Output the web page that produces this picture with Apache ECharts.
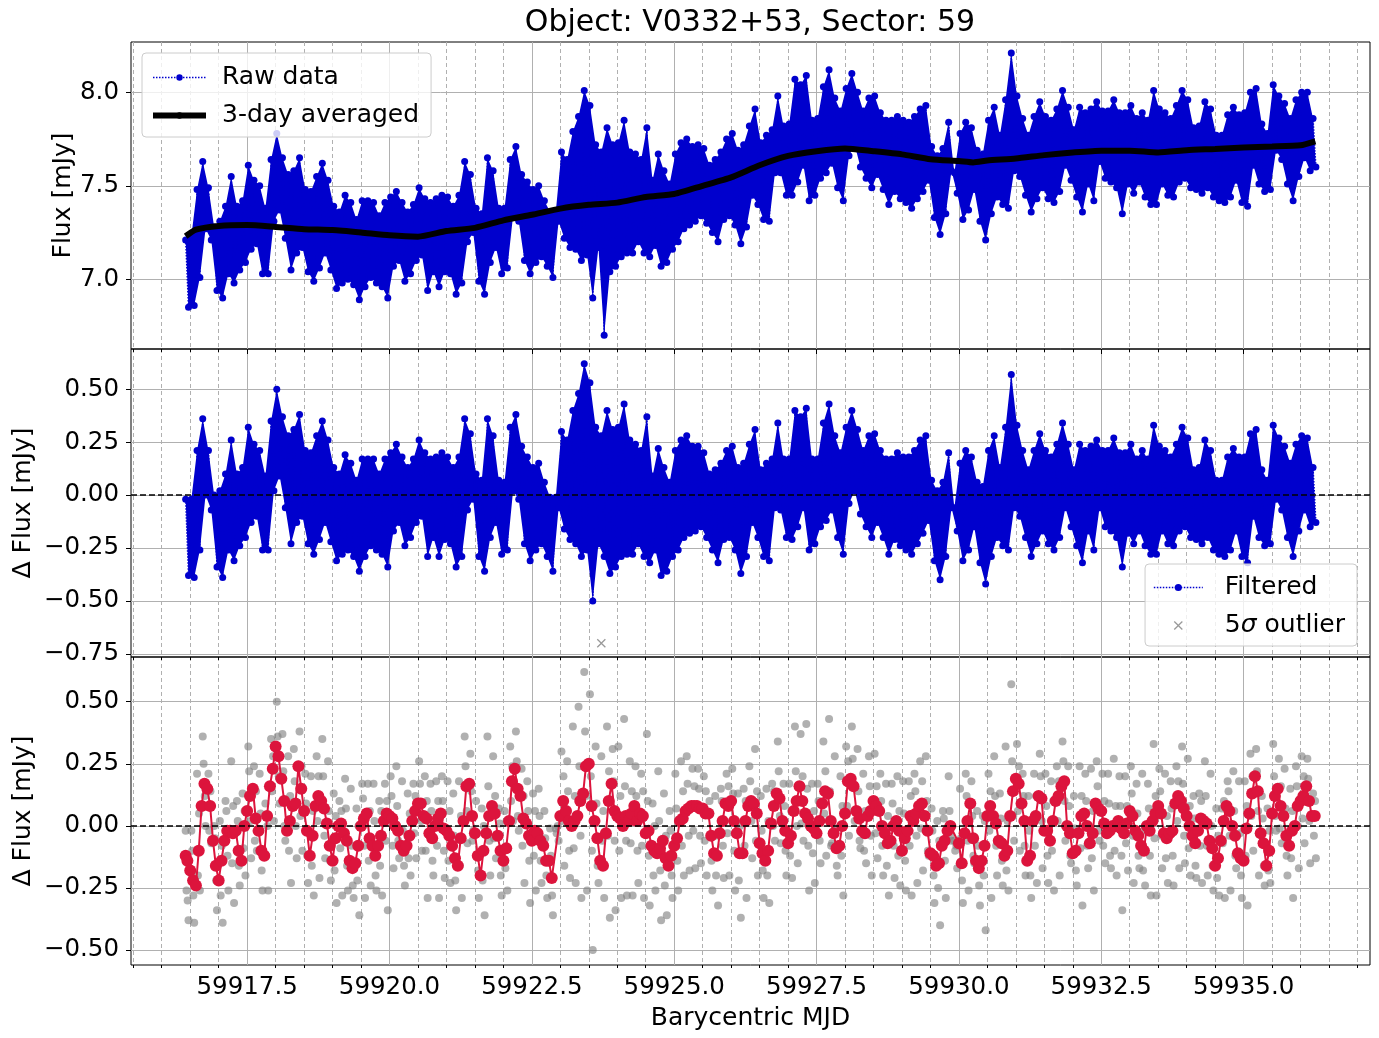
<!DOCTYPE html>
<html>
<head>
<meta charset="utf-8">
<title>Object: V0332+53, Sector: 59</title>
<script src="https://cdn.jsdelivr.net/npm/echarts@6/dist/echarts.min.js"></script>
<style>
  html, body { margin: 0; padding: 0; background: #fff; }
  #chart { width: 1379px; height: 1038px; }
</style>
</head>
<body>
<div id="chart"></div>
<script>
// light curve: max / min per 0.1 d bin, bins start at binStart
const binStart = 59916.4;
const binStep = 0.1;

// raw flux [mJy]
const rawHi = [
  7.21, 7.23, 7.48, 7.63, 7.49, 7.28, 7.31, 7.39, 7.55, 7.39,
  7.42, 7.61, 7.53, 7.50, 7.38, 7.64, 7.78, 7.65, 7.56, 7.58,
  7.65, 7.48, 7.47, 7.55, 7.62, 7.53, 7.39, 7.36, 7.45, 7.41,
  7.32, 7.42, 7.42, 7.41, 7.34, 7.41, 7.44, 7.47, 7.41, 7.36,
  7.40, 7.49, 7.43, 7.41, 7.43, 7.45, 7.44, 7.39, 7.45, 7.63,
  7.56, 7.38, 7.35, 7.65, 7.58, 7.38, 7.38, 7.64, 7.71, 7.56,
  7.52, 7.48, 7.50, 7.42, 7.36, 7.36, 7.68, 7.64, 7.79, 7.87,
  8.01, 7.93, 7.72, 7.68, 7.81, 7.72, 7.73, 7.85, 7.68, 7.67,
  7.64, 7.81, 7.53, 7.67, 7.58, 7.51, 7.67, 7.73, 7.75, 7.71,
  7.72, 7.70, 7.61, 7.64, 7.68, 7.75, 7.78, 7.69, 7.72, 7.82,
  7.91, 7.73, 7.77, 7.80, 7.98, 7.82, 7.83, 8.07, 8.04, 8.09,
  7.85, 7.86, 8.03, 8.12, 7.97, 7.90, 8.02, 8.10, 8.00, 7.90,
  7.97, 7.98, 7.89, 7.85, 7.85, 7.87, 7.85, 7.84, 7.87, 7.91,
  7.93, 7.71, 7.66, 7.70, 7.84, 7.57, 7.78, 7.84, 7.81, 7.69,
  7.67, 7.85, 7.92, 7.77, 7.96, 8.21, 7.98, 7.86, 7.77, 7.87,
  7.95, 7.87, 7.85, 7.91, 8.01, 7.92, 7.80, 7.92, 7.89, 7.91,
  7.95, 7.90, 7.90, 7.96, 7.89, 7.89, 7.93, 7.86, 7.89, 7.85,
  8.01, 7.91, 7.89, 7.86, 7.93, 8.01, 7.96, 7.81, 7.82, 7.95,
  7.91, 7.77, 7.77, 7.88, 7.92, 7.88, 7.89, 8.00, 8.02, 7.83,
  7.78, 8.04, 7.98, 7.94, 7.86, 7.96, 8.00, 8.00, 7.86
];
const rawLo = [
  6.85, 6.86, 7.01, 7.27, 7.21, 6.94, 6.90, 7.03, 6.98, 7.05,
  7.09, 7.16, 7.19, 7.03, 7.03, 7.31, 7.37, 7.22, 7.05, 7.14,
  7.17, 7.04, 6.99, 7.06, 7.14, 7.05, 6.95, 6.98, 7.00, 6.97,
  6.89, 6.96, 7.01, 6.98, 6.96, 6.90, 7.07, 7.10, 6.99, 7.03,
  7.10, 7.13, 6.94, 7.04, 6.96, 7.04, 7.03, 6.92, 6.98, 7.20,
  7.25, 6.99, 6.92, 7.09, 7.17, 7.03, 7.06, 7.34, 7.31, 7.10,
  7.03, 7.09, 7.12, 7.07, 7.01, 7.31, 7.22, 7.17, 7.16, 7.10,
  7.13, 6.90, 7.17, 6.70, 7.04, 7.07, 7.12, 7.14, 7.14, 7.20,
  7.14, 7.12, 7.18, 7.07, 7.09, 7.16, 7.20, 7.27, 7.29, 7.31,
  7.34, 7.30, 7.25, 7.20, 7.32, 7.34, 7.29, 7.19, 7.28, 7.45,
  7.40, 7.32, 7.31, 7.57, 7.57, 7.45, 7.45, 7.52, 7.61, 7.42,
  7.45, 7.54, 7.57, 7.62, 7.49, 7.42, 7.66, 7.72, 7.60, 7.54,
  7.49, 7.56, 7.48, 7.40, 7.47, 7.43, 7.41, 7.38, 7.43, 7.47,
  7.53, 7.33, 7.24, 7.35, 7.58, 7.46, 7.32, 7.37, 7.48, 7.31,
  7.21, 7.35, 7.44, 7.40, 7.38, 7.58, 7.55, 7.45, 7.36, 7.43,
  7.49, 7.43, 7.41, 7.47, 7.61, 7.53, 7.44, 7.36, 7.51, 7.42,
  7.63, 7.54, 7.52, 7.49, 7.35, 7.51, 7.46, 7.52, 7.44, 7.40,
  7.40, 7.51, 7.45, 7.44, 7.52, 7.54, 7.49, 7.48, 7.46, 7.49,
  7.44, 7.42, 7.41, 7.44, 7.53, 7.41, 7.39, 7.61, 7.51, 7.47,
  7.48, 7.69, 7.64, 7.51, 7.42, 7.55, 7.65, 7.58, 7.60
];

// 3-day averaged flux
const avgTime = [
  59916.42, 59916.6, 59917.0, 59917.5, 59918.0, 59918.5, 59919.0, 59919.5,
  59920.0, 59920.5, 59921.0, 59921.5, 59922.0, 59922.5, 59923.0, 59923.5,
  59924.0, 59924.5, 59925.0, 59925.5, 59926.0, 59926.5, 59927.0, 59927.5,
  59928.0, 59928.5, 59929.0, 59929.5, 59930.0, 59930.25, 59930.5, 59931.0,
  59931.5, 59932.0, 59932.5, 59933.0, 59933.5, 59934.0, 59934.5, 59935.0,
  59935.5, 59936.0, 59936.26
];
const avgFlux = [
  7.23, 7.265, 7.285, 7.29, 7.28, 7.268, 7.263, 7.25,
  7.235, 7.228, 7.258, 7.275, 7.315, 7.345, 7.378, 7.398,
  7.41, 7.44, 7.456, 7.50, 7.545, 7.61, 7.66, 7.685,
  7.70, 7.685, 7.668, 7.642, 7.632, 7.625, 7.635, 7.646,
  7.664, 7.678, 7.688, 7.688, 7.678, 7.69, 7.697, 7.705,
  7.71, 7.717, 7.738
];

// filtered (detrended) flux [mJy]
const filtHi = [
  -0.02, -0.02, 0.21, 0.36, 0.21, 0.00, 0.02, 0.10, 0.26, 0.10,
  0.13, 0.32, 0.24, 0.21, 0.09, 0.35, 0.50, 0.37, 0.28, 0.31,
  0.38, 0.21, 0.20, 0.28, 0.35, 0.26, 0.13, 0.10, 0.19, 0.15,
  0.07, 0.17, 0.17, 0.17, 0.10, 0.17, 0.20, 0.24, 0.18, 0.13,
  0.17, 0.26, 0.20, 0.17, 0.18, 0.20, 0.18, 0.13, 0.18, 0.36,
  0.29, 0.10, 0.07, 0.36, 0.28, 0.07, 0.06, 0.32, 0.38, 0.23,
  0.18, 0.13, 0.15, 0.06, -0.01, -0.01, 0.30, 0.26, 0.40, 0.48,
  0.62, 0.53, 0.32, 0.28, 0.40, 0.31, 0.32, 0.43, 0.26, 0.24,
  0.21, 0.37, 0.09, 0.22, 0.13, 0.06, 0.21, 0.26, 0.28, 0.23,
  0.23, 0.20, 0.10, 0.12, 0.15, 0.21, 0.23, 0.13, 0.15, 0.24,
  0.31, 0.12, 0.15, 0.17, 0.34, 0.17, 0.17, 0.40, 0.37, 0.41,
  0.17, 0.17, 0.34, 0.43, 0.28, 0.20, 0.32, 0.40, 0.31, 0.21,
  0.28, 0.29, 0.21, 0.17, 0.17, 0.20, 0.18, 0.18, 0.21, 0.26,
  0.28, 0.07, 0.02, 0.06, 0.20, -0.06, 0.15, 0.21, 0.18, 0.06,
  0.04, 0.21, 0.28, 0.13, 0.32, 0.57, 0.33, 0.21, 0.12, 0.21,
  0.29, 0.21, 0.18, 0.24, 0.34, 0.24, 0.12, 0.24, 0.21, 0.23,
  0.26, 0.21, 0.21, 0.27, 0.20, 0.20, 0.24, 0.17, 0.21, 0.17,
  0.33, 0.23, 0.21, 0.18, 0.24, 0.32, 0.27, 0.12, 0.13, 0.26,
  0.21, 0.07, 0.07, 0.18, 0.22, 0.18, 0.18, 0.29, 0.31, 0.12,
  0.07, 0.33, 0.27, 0.23, 0.15, 0.24, 0.28, 0.27, 0.13
];
const filtLo = [
  -0.38, -0.39, -0.26, 0.00, -0.07, -0.34, -0.39, -0.26, -0.31, -0.24,
  -0.20, -0.13, -0.10, -0.26, -0.26, 0.02, 0.09, -0.06, -0.23, -0.13,
  -0.10, -0.23, -0.28, -0.21, -0.13, -0.22, -0.31, -0.28, -0.26, -0.29,
  -0.36, -0.29, -0.24, -0.26, -0.28, -0.34, -0.17, -0.13, -0.24, -0.20,
  -0.13, -0.10, -0.29, -0.20, -0.29, -0.21, -0.23, -0.34, -0.29, -0.07,
  -0.02, -0.29, -0.36, -0.20, -0.13, -0.28, -0.26, 0.02, -0.02, -0.23,
  -0.31, -0.26, -0.23, -0.29, -0.36, -0.06, -0.16, -0.21, -0.23, -0.29,
  -0.26, -0.50, -0.23, -0.29, -0.37, -0.34, -0.29, -0.28, -0.28, -0.23,
  -0.29, -0.32, -0.26, -0.38, -0.36, -0.29, -0.26, -0.20, -0.18, -0.17,
  -0.15, -0.20, -0.26, -0.32, -0.21, -0.20, -0.26, -0.37, -0.29, -0.13,
  -0.20, -0.29, -0.31, -0.06, -0.07, -0.20, -0.21, -0.15, -0.06, -0.26,
  -0.23, -0.15, -0.12, -0.07, -0.20, -0.28, -0.04, 0.02, -0.09, -0.15,
  -0.20, -0.13, -0.20, -0.28, -0.21, -0.24, -0.26, -0.28, -0.23, -0.18,
  -0.12, -0.31, -0.40, -0.29, -0.06, -0.17, -0.31, -0.26, -0.15, -0.32,
  -0.42, -0.29, -0.20, -0.24, -0.26, -0.06, -0.10, -0.20, -0.29, -0.23,
  -0.17, -0.23, -0.26, -0.20, -0.06, -0.15, -0.24, -0.32, -0.17, -0.26,
  -0.06, -0.15, -0.17, -0.20, -0.34, -0.18, -0.23, -0.17, -0.24, -0.28,
  -0.28, -0.17, -0.23, -0.24, -0.17, -0.15, -0.20, -0.21, -0.23, -0.20,
  -0.26, -0.28, -0.29, -0.26, -0.17, -0.29, -0.32, -0.10, -0.20, -0.24,
  -0.23, -0.02, -0.07, -0.20, -0.29, -0.17, -0.07, -0.15, -0.13
];
// extra points inside the filtered band (grey cloud, bottom panel)
const filtMidA = [
  -0.26, -0.10, -0.20, 0.25, -0.02, -0.05, -0.28, 0.06, -0.15, 0.02,
  -0.09, 0.22, -0.06, 0.05, -0.12, 0.14, 0.36, 0.22, -0.10, 0.18,
  0.04, 0.09, -0.16, 0.02, 0.20, 0.06, -0.18, -0.09, 0.07, -0.08,
  -0.22, 0.11, -0.14, 0.02, -0.16, -0.06, 0.12, 0.08, -0.02, -0.13,
  -0.03, 0.17, -0.10, 0.06, -0.08, 0.10, -0.14, -0.04, -0.16, 0.24,
  0.14, -0.03, -0.22, 0.16, -0.05, 0.01, -0.17, 0.10, 0.26, -0.08,
  0.06, -0.12, 0.04, -0.05, -0.12, -0.03, 0.02, 0.14, -0.09, 0.24,
  0.38, 0.20, 0.09, -0.06, -0.04, 0.18, -0.10, 0.16, -0.07, 0.12,
  -0.08, 0.10, -0.20, 0.02, -0.24, -0.02, 0.07, -0.08, 0.17, -0.02,
  0.15, -0.06, 0.05, -0.20, 0.10, -0.03, 0.13, -0.22, -0.08, 0.18,
  -0.06, -0.02, -0.20, 0.00, 0.22, 0.08, -0.12, 0.22, 0.01, 0.15,
  -0.11, 0.10, 0.05, 0.14, -0.01, -0.12, 0.08, 0.27, 0.14, -0.10,
  0.16, -0.03, 0.10, -0.16, 0.09, -0.12, 0.05, -0.08, 0.14, -0.01,
  0.10, -0.02, -0.25, 0.03, 0.06, -0.10, -0.05, 0.12, 0.04, -0.08,
  -0.20, -0.02, 0.12, 0.03, -0.18, 0.26, 0.06, 0.12, -0.02, -0.08,
  0.20, 0.08, -0.10, 0.02, 0.26, 0.08, -0.01, -0.09, 0.10, -0.13,
  0.16, -0.08, 0.09, -0.10, 0.08, -0.07, 0.13, 0.05, -0.18, 0.07,
  -0.05, 0.14, -0.13, 0.07, 0.02, 0.17, -0.09, 0.03, -0.08, 0.12,
  0.00, -0.21, -0.07, 0.14, 0.06, -0.03, -0.12, 0.04, 0.22, 0.03,
  -0.18, 0.20, -0.01, 0.07, -0.13, 0.16, 0.03, 0.19, -0.04
];
const filtMidB = [
  -0.30, -0.28, 0.05, 0.12, 0.14, -0.22, -0.08, -0.12, 0.08, -0.16,
  0.06, 0.02, 0.14, -0.18, 0.00, 0.28, 0.20, 0.00, 0.12, 0.00,
  0.24, -0.12, 0.06, 0.20, -0.04, -0.14, 0.04, 0.06, -0.16, -0.24,
  0.00, -0.08, 0.06, -0.20, 0.06, 0.10, -0.08, -0.06, -0.16, 0.05,
  0.12, 0.02, 0.10, -0.14, 0.10, -0.10, 0.06, -0.22, 0.04, 0.06,
  -0.06, -0.18, 0.00, -0.06, 0.12, -0.20, 0.02, 0.24, 0.04, 0.12,
  -0.14, 0.06, -0.14, -0.20, -0.28, 0.00, 0.20, -0.10, 0.12, -0.04,
  0.12, -0.10, -0.16, 0.06, 0.22, -0.06, 0.12, -0.06, 0.14, -0.10,
  0.14, -0.12, 0.00, -0.18, -0.04, -0.20, -0.14, 0.14, -0.04, 0.16,
  -0.04, 0.14, -0.14, -0.04, -0.08, 0.16, -0.10, 0.00, 0.10, 0.02,
  0.14, -0.18, 0.02, 0.14, 0.04, -0.10, 0.06, 0.00, 0.20, -0.08,
  0.06, -0.06, 0.22, -0.08, -0.16, 0.08, 0.26, 0.06, -0.06, 0.06,
  -0.04, 0.16, -0.08, 0.04, -0.08, 0.06, -0.14, 0.12, -0.04, 0.18,
  -0.10, -0.20, -0.06, -0.14, -0.04, -0.08, -0.22, -0.06, -0.12, -0.24,
  0.02, 0.14, -0.08, -0.14, 0.02, 0.04, 0.24, -0.08, -0.20, 0.12,
  0.02, -0.12, 0.10, 0.18, 0.10, -0.12, -0.18, 0.12, -0.08, 0.06,
  -0.02, 0.10, -0.12, 0.08, -0.12, 0.08, -0.04, -0.12, -0.02, -0.12,
  0.12, -0.04, 0.04, -0.12, 0.18, -0.04, 0.08, -0.16, 0.10, -0.08,
  -0.16, -0.04, 0.10, -0.04, -0.12, -0.20, 0.08, 0.20, 0.06, -0.16,
  -0.02, 0.04, 0.16, -0.12, 0.06, 0.00, 0.20, 0.02, 0.10
];

// binned filtered flux (red): value at each bin start and at each bin centre, null inside the gaps
const binnedStart = [
  -0.12, -0.18, -0.24, 0.08, 0.15, -0.06, -0.22, -0.06, -0.02, -0.02,
  -0.14, 0.06, 0.15, -0.02, -0.12, 0.16, 0.32, 0.19, -0.02, 0.08,
  0.24, 0.06, -0.12, 0.08, 0.10, 0.01, -0.14, 0.00, -0.03, -0.14,
  -0.15, 0.00, 0.05, -0.08, -0.08, 0.02, 0.04, 0.00, -0.08, -0.08,
  0.02, 0.09, 0.04, -0.03, 0.00, 0.05, -0.02, -0.08, -0.16, 0.02,
  0.17, -0.03, -0.20, -0.03, 0.08, -0.04, -0.14, 0.02, 0.23, 0.12,
  0.01, -0.06, -0.03, -0.08, -0.14, null, 0.04, 0.06, 0.00, 0.04,
  0.13, 0.25, 0.02, -0.14, -0.03, 0.17, 0.04, 0.00, 0.02, 0.08,
  0.05, -0.03, -0.08, -0.11, -0.06, -0.16, -0.08, 0.02, 0.06, 0.08,
  0.08, 0.07, 0.05, -0.11, -0.03, 0.09, 0.10, -0.03, -0.11, 0.08,
  0.09, -0.07, -0.14, 0.01, 0.13, 0.02, -0.07, 0.06, 0.16, 0.05,
  0.00, -0.03, 0.09, 0.13, -0.03, -0.08, 0.05, 0.19, 0.06, -0.02,
  0.04, 0.10, 0.06, -0.03, -0.06, 0.02, -0.10, -0.02, 0.02, 0.08,
  0.04, -0.11, -0.16, -0.08, -0.02, null, -0.07, -0.03, 0.09, -0.14,
  -0.14, 0.04, 0.04, -0.06, -0.12, 0.04, 0.19, 0.09, -0.14, 0.02,
  0.12, -0.02, -0.06, 0.10, 0.16, 0.00, -0.11, -0.03, 0.05, -0.07,
  0.09, 0.06, -0.03, 0.00, 0.02, -0.03, 0.06, -0.02, -0.08, 0.00,
  0.02, 0.08, -0.03, -0.03, 0.09, 0.10, 0.04, -0.04, -0.02, 0.02,
  -0.06, -0.16, -0.06, 0.08, 0.00, -0.11, -0.14, 0.05, 0.20, -0.03,
  -0.16, 0.05, 0.15, 0.04, -0.08, 0.00, 0.10, 0.16, 0.04
];
const binnedMid = [
  -0.14, -0.22, -0.10, 0.17, 0.08, -0.16, -0.14, -0.02, -0.03, -0.10,
  0.00, 0.12, 0.03, -0.10, 0.04, 0.23, 0.28, 0.10, 0.02, 0.09,
  0.15, -0.02, -0.04, 0.12, 0.07, -0.08, -0.05, 0.01, -0.06, -0.17,
  -0.08, 0.03, -0.05, -0.12, -0.04, 0.05, 0.03, -0.02, -0.10, -0.04,
  0.06, 0.09, 0.03, -0.05, 0.03, -0.01, -0.04, -0.13, -0.05, 0.16,
  0.04, -0.12, -0.10, 0.04, 0.05, -0.10, -0.09, 0.18, 0.15, 0.03,
  -0.04, -0.02, -0.06, -0.14, -0.21, null, 0.10, 0.02, 0.02, 0.10,
  0.24, 0.08, -0.05, -0.16, 0.10, 0.06, 0.03, 0.04, 0.05, 0.02,
  0.04, -0.02, -0.10, -0.09, -0.13, -0.12, -0.05, 0.03, 0.07, 0.08,
  0.07, 0.05, -0.04, -0.12, 0.02, 0.08, 0.02, -0.11, 0.02, 0.10,
  0.05, -0.11, -0.10, 0.08, 0.11, -0.02, -0.04, 0.10, 0.10, 0.03,
  -0.01, 0.02, 0.14, 0.02, -0.09, 0.00, 0.18, 0.16, 0.03, -0.03,
  0.06, 0.08, 0.00, -0.07, 0.00, -0.02, -0.05, 0.04, 0.05, 0.09,
  -0.02, -0.12, -0.15, -0.06, 0.00, null, -0.15, 0.02, -0.05, -0.17,
  -0.08, 0.08, 0.01, -0.07, -0.10, 0.14, 0.17, 0.02, -0.12, 0.04,
  0.11, -0.02, 0.02, 0.12, 0.18, -0.03, -0.10, 0.04, 0.00, -0.03,
  0.07, 0.01, -0.02, 0.00, -0.01, 0.01, 0.04, -0.04, -0.10, -0.02,
  0.05, 0.05, -0.05, -0.02, 0.12, 0.07, 0.00, -0.07, 0.03, 0.01,
  -0.09, -0.13, 0.02, 0.06, -0.04, -0.13, -0.01, 0.13, 0.14, -0.07,
  -0.10, 0.12, 0.08, -0.04, -0.02, 0.08, 0.12, 0.10, 0.04
];

const outlierTime = [59923.72];
const outlierFlux = [-0.70];

// tick labels
const majorTicks = [59917.5, 59920.0, 59922.5, 59925.0, 59927.5, 59930.0, 59932.5, 59935.0];
const minorTicks = [
  59915.5, 59916.0, 59916.5, 59917.0, 59918.0, 59918.5, 59919.0, 59919.5,
  59920.5, 59921.0, 59921.5, 59922.0, 59923.0, 59923.5, 59924.0, 59924.5,
  59925.5, 59926.0, 59926.5, 59927.0, 59928.0, 59928.5, 59929.0, 59929.5,
  59930.5, 59931.0, 59931.5, 59932.0, 59933.0, 59933.5, 59934.0, 59934.5,
  59935.5, 59936.0, 59936.5, 59937.0
];
const fluxTicks = [7.0, 7.5, 8.0];
const dFluxTicks = [-0.75, -0.5, -0.25, 0, 0.25, 0.5];
const resTicks = [-0.5, -0.25, 0, 0.25, 0.5];

const FONT = 'DejaVu Sans';
const BLUE = '#0000CD';
const RED = '#DC143C';
const GRID_GRAY = '#b0b0b0';
const X_MIN = 59915.46, X_MAX = 59937.22;
const CROSS = 'path://M1,0 L5,4 L9,0 L10,1 L6,5 L10,9 L9,10 L5,6 L1,10 L0,9 L4,5 L0,1 Z';

function binTime(i, off) {
  return +(binStart + binStep * i + off).toFixed(3);
}

// max and min of each bin, joined in time order like the original dense trace
function zigzag(hi, lo) {
  const pts = [];
  for (let i = 0; i < hi.length; i++) {
    pts.push([binTime(i, 0.02), hi[i]]);
    pts.push([binTime(i, 0.07), lo[i]]);
  }
  return pts;
}

// the thousands of overlapping points fill the space between max and min
function bandSeries(hi, lo, xAxisIndex, yAxisIndex) {
  return {
    type: 'custom', xAxisIndex, yAxisIndex, silent: true, z: 1, clip: true,
    data: [[binStart, hi[0]]],
    renderItem: (params, api) => {
      const pts = [];
      hi.forEach((v, i) => pts.push(api.coord([binTime(i, 0.02), v])));
      for (let i = lo.length - 1; i >= 0; i--) pts.push(api.coord([binTime(i, 0.07), lo[i]]));
      return { type: 'polygon', shape: { points: pts }, style: { fill: BLUE } };
    }
  };
}

function greyCloud() {
  const pts = [];
  for (let i = 0; i < filtHi.length; i++) {
    pts.push([binTime(i, 0.02), filtHi[i]]);
    pts.push([binTime(i, 0.035), filtMidA[i]]);
    pts.push([binTime(i, 0.055), filtMidB[i]]);
    pts.push([binTime(i, 0.07), filtLo[i]]);
  }
  return pts;
}

function redTrace() {
  const pts = [];
  for (let i = 0; i < binnedMid.length; i++) {
    pts.push([binTime(i, i === 0 ? 0.02 : 0), binnedStart[i]]);
    pts.push([binTime(i, 0.05), binnedMid[i]]);
  }
  return pts;
}

const minus = (v, d) => (v < 0 ? '\u2212' : '') + Math.abs(v).toFixed(d);

function xAxes(gridIndex, bottom) {
  return [{
    type: 'value', gridIndex, min: X_MIN, max: X_MAX, position: 'bottom',
    name: bottom ? 'Barycentric MJD' : '',
    nameLocation: 'middle', nameGap: 41, nameMoveOverlap: false,
    nameTextStyle: { fontSize: 25, color: '#000', fontFamily: FONT },
    axisLine: { show: false },
    axisTick: { show: true, length: 5, lineStyle: { color: '#000', width: 1 }, customValues: majorTicks },
    axisLabel: {
      show: bottom, customValues: majorTicks, fontSize: 24.5, color: '#000',
      fontFamily: FONT, margin: 10, formatter: v => v.toFixed(1)
    },
    splitLine: { show: true, lineStyle: { color: GRID_GRAY, width: 1 } }
  }, {
    type: 'value', gridIndex, min: X_MIN, max: X_MAX, position: 'bottom',
    axisLine: { show: false },
    axisLabel: { show: false },
    axisTick: { show: true, length: 3, lineStyle: { color: '#000', width: 1 }, customValues: minorTicks },
    splitLine: { show: true, lineStyle: { color: GRID_GRAY, width: 1, type: [4, 3] } }
  }];
}

function yAxis(gridIndex, min, max, ticks, digits, name, gap) {
  return {
    type: 'value', gridIndex, min, max,
    name, nameLocation: 'middle', nameRotate: 90, nameGap: gap, nameMoveOverlap: false,
    nameTextStyle: { fontSize: 25, color: '#000', fontFamily: FONT },
    axisLine: { show: false },
    axisTick: { show: true, length: 5, lineStyle: { color: '#000', width: 1 }, customValues: ticks },
    axisLabel: {
      customValues: ticks, fontSize: 24.5, color: '#000', fontFamily: FONT,
      margin: 12, formatter: v => minus(v, digits)
    },
    splitLine: { show: true, lineStyle: { color: GRID_GRAY, width: 1 } }
  };
}

const zeroLine = {
  silent: true, symbol: 'none', animation: false,
  label: { show: false },
  lineStyle: { color: '#000', width: 1.5, type: [6, 3] },
  data: [{ yAxis: 0 }]
};

const gridBase = { left: 131, right: 9, height: 307, show: true, borderColor: '#000', borderWidth: 1, outerBoundsMode: 'none' };

const legendBox = {
  orient: 'vertical', selectedMode: false,
  backgroundColor: 'rgba(255,255,255,0.8)', borderColor: '#cccccc', borderWidth: 1, borderRadius: 4,
  itemGap: 13
};
const dottedKey = { type: 'dotted', width: 1.5, color: BLUE };

const chart = echarts.init(document.getElementById('chart'), null, { renderer: 'canvas' });

chart.setOption({
  animation: false,
  backgroundColor: '#fff',
  textStyle: { fontFamily: FONT },
  title: {
    text: 'Object: V0332+53, Sector: 59',
    left: 750, top: 8, textAlign: 'center', padding: 0,
    textStyle: { fontSize: 30, fontWeight: 'normal', color: '#000', fontFamily: FONT }
  },
  legend: [
    Object.assign({}, legendBox, {
      data: [
        { name: 'Raw data', lineStyle: dottedKey },
        { name: '3-day averaged', lineStyle: { width: 6, color: '#000', type: 'solid' } }
      ],
      left: 142, top: 53, padding: [12, 12, 9, 8],
      itemWidth: 53, itemHeight: 8,
      textStyle: { fontSize: 25, color: '#000', fontFamily: FONT, padding: [0, 0, 0, 11] }
    }),
    Object.assign({}, legendBox, {
      data: [
        { name: 'Filtered', lineStyle: dottedKey },
        { name: '5σ outlier' }
      ],
      right: 22, top: 564, padding: [11, 12, 8, 8],
      itemWidth: 49, itemHeight: 9,
      formatter: name => name === '5σ outlier' ? '{n|5}{s|σ}{n| outlier}' : '{n|' + name + '}',
      textStyle: {
        fontSize: 25, color: '#000', fontFamily: FONT, padding: [0, 0, 0, 17],
        rich: {
          n: { fontSize: 25, color: '#000', fontFamily: FONT },
          s: { fontSize: 25, color: '#000', fontFamily: FONT, fontStyle: 'italic' }
        }
      }
    })
  ],
  grid: [
    Object.assign({}, gridBase, { top: 42 }),
    Object.assign({}, gridBase, { top: 349, height: 308 }),
    Object.assign({}, gridBase, { top: 657, height: 308 })
  ],
  xAxis: [].concat(xAxes(0, false), xAxes(1, false), xAxes(2, true)),
  yAxis: [
    yAxis(0, 6.627, 8.269, fluxTicks, 1, 'Flux [mJy]', 55),
    yAxis(1, -0.765, 0.690, dFluxTicks, 2, 'Δ Flux [mJy]', 95),
    yAxis(2, -0.56, 0.68, resTicks, 2, 'Δ Flux [mJy]', 95)
  ],
  series: [
    bandSeries(rawHi, rawLo, 0, 0),
    {
      name: 'Raw data', type: 'line', xAxisIndex: 0, yAxisIndex: 0,
      data: zigzag(rawHi, rawLo),
      symbol: 'circle', symbolSize: 7,
      lineStyle: { color: BLUE, width: 1.5, type: 'dotted' },
      itemStyle: { color: BLUE }, z: 2
    },
    {
      name: '3-day averaged', type: 'line', xAxisIndex: 0, yAxisIndex: 0,
      data: avgTime.map((t, i) => [t, avgFlux[i]]),
      symbol: 'none', smooth: 0.2,
      lineStyle: { color: '#000', width: 6 },
      itemStyle: { color: '#000' }, z: 3
    },
    bandSeries(filtHi, filtLo, 2, 1),
    {
      name: 'Filtered', type: 'line', xAxisIndex: 2, yAxisIndex: 1,
      data: zigzag(filtHi, filtLo),
      symbol: 'circle', symbolSize: 7,
      lineStyle: { color: BLUE, width: 1.5, type: 'dotted' },
      itemStyle: { color: BLUE }, z: 2,
      markLine: zeroLine
    },
    {
      name: '5σ outlier', type: 'scatter', xAxisIndex: 2, yAxisIndex: 1,
      data: outlierTime.map((t, i) => [t, outlierFlux[i]]),
      symbol: CROSS, symbolSize: 9, symbolKeepAspect: true,
      itemStyle: { color: '#808080' }, z: 3
    },
    {
      name: 'grey', type: 'scatter', xAxisIndex: 4, yAxisIndex: 2,
      data: greyCloud(),
      symbol: 'circle', symbolSize: 8,
      itemStyle: { color: 'rgba(128,128,128,0.78)' }, z: 2,
      markLine: zeroLine
    },
    {
      name: 'binned', type: 'line', xAxisIndex: 4, yAxisIndex: 2,
      data: redTrace(),
      connectNulls: true,
      symbol: 'circle', symbolSize: 12,
      lineStyle: { color: RED, width: 2 },
      itemStyle: { color: RED }, z: 4
    }
  ]
});

window.addEventListener('resize', () => chart.resize());
</script>
</body>
</html>
